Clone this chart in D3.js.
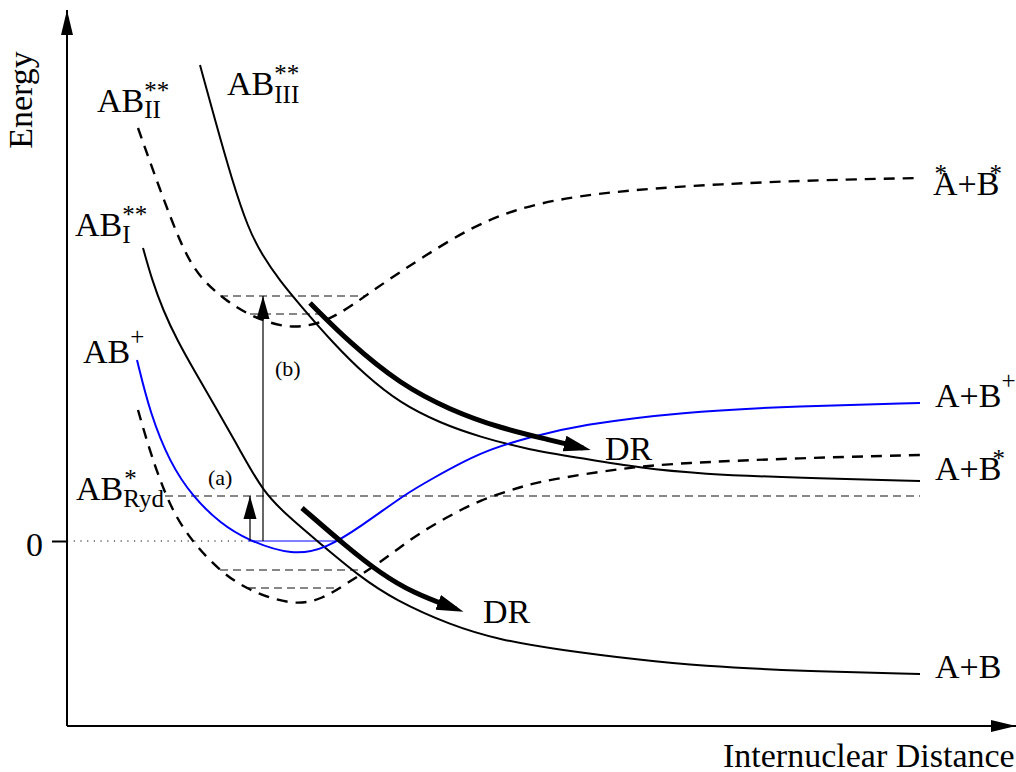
<!DOCTYPE html>
<html>
<head>
<meta charset="utf-8">
<script src="https://cdn.jsdelivr.net/npm/d3@7"></script>
<style>
  body { margin: 0; background: #fff; }
  text { font-family: "Liberation Serif", "Times New Roman", serif; fill: #000; }
</style>
</head>
<body>
<svg width="1016" height="772"></svg>
<script>
// potential curves, [internuclear distance, energy] (arbitrary units, 0 = ion ground level)
var abPlus = [[7.0, 18.1], [8.3, 12.8], [10.3, 7.8], [12.6, 4.4], [15.3, 1.8], [18.0, 0.1], [22.6, -1.5],
  [26.0, -0.7], [29.3, 1.4], [34.0, 4.8], [36.3, 6.1], [41.3, 8.9], [46.3, 10.4], [51.3, 11.6],
  [61.3, 12.9], [73.3, 13.5], [85.3, 13.8]];
var abRyd = [[7.1, 13.1], [8.3, 8.9], [10.3, 3.3], [12.6, -0.2], [15.3, -3.0], [18.0, -4.9], [22.6, -6.5],
  [25.6, -5.8], [28.0, -4.2], [31.3, -2.2], [34.6, 0.4], [38.0, 2.4], [41.3, 4.1], [45.3, 5.4],
  [48.0, 6.1], [55.6, 7.3], [61.3, 7.8], [73.3, 8.3], [85.3, 8.6]];
var abI = [[7.6, 29.3], [8.5, 26.1], [9.6, 23.1], [11.0, 20.1], [12.8, 16.9], [14.8, 13.5], [17.3, 9.1],
  [19.6, 4.9], [22.3, 2.3], [24.9, 0.1], [29.3, -3.6], [32.8, -5.9], [38.3, -8.4], [43.3, -9.9],
  [49.3, -10.9], [57.3, -11.9], [63.3, -12.5], [73.3, -13.0], [85.3, -13.3]];
var abII = [[7.1, 41.3], [9.3, 35.1], [11.6, 29.1], [13.3, 26.3], [15.8, 24.1], [18.3, 22.5], [22.3, 21.1],
  [26.0, 21.9], [29.3, 24.1], [31.8, 25.9], [35.6, 28.4], [40.3, 31.3], [44.6, 33.1], [49.6, 34.3],
  [56.3, 35.1], [65.3, 35.7], [75.3, 36.1], [85.3, 36.3]];
var abIII = [[13.3, 47.6], [14.8, 42.1], [16.5, 36.1], [18.1, 31.3], [19.5, 28.6], [21.3, 26.0], [23.3, 23.6],
  [26.6, 19.8], [29.8, 16.6], [33.3, 13.8], [37.3, 11.8], [41.3, 10.4], [46.3, 9.1], [51.3, 8.3],
  [57.3, 7.3], [63.3, 6.7], [73.3, 6.3], [85.3, 6.0]];

// dissociation paths (thick arrows)
var drUpper = [[24.3, 23.8], [28.3, 19.8], [33.3, 15.7], [38.3, 13.1], [43.3, 11.3], [48.3, 10.1], [51.6, 9.3]];
var drLower = [[23.5, 3.3], [28.0, -0.6], [31.3, -3.2], [34.6, -5.2], [38.9, -6.8]];

// vibrational / reference levels: [energy, from, to]
var dashedLevels = [[4.5, 9.8, 85.3], [-2.9, 15.3, 29.6], [-4.7, 18.1, 27.1], [24.5, 15.3, 29.8], [22.7, 18.3, 25.6]];
var ionLevel = [0, 18.1, 27.1];
var zeroLine = [0, 0, 18.1];

// excitations: [distance, from energy, to energy, label]
var excitations = [[18.3, 0, 4.5, '(a)'], [19.6, 0, 24.5, '(b)']];
var excitationLabelPos = [[14.1, 5.6], [20.8, 16.5]];

var x = d3.scaleLinear().domain([0, 95]).range([67, 1017]);
var y = d3.scaleLinear().domain([-18.5, 53]).range([726, 11]);

var svg = d3.select('svg');

var defs = svg.append('defs');
function marker(id, d, refX) {
  defs.append('marker')
    .attr('id', id)
    .attr('viewBox', '0 -10 30 20')
    .attr('markerWidth', 30).attr('markerHeight', 20)
    .attr('markerUnits', 'userSpaceOnUse')
    .attr('refX', refX).attr('refY', 0)
    .attr('orient', 'auto')
    .append('path').attr('d', d).attr('fill', '#000');
}
marker('head-axis', 'M0,-6L25,0L0,6Z', 25);
marker('head-thin', 'M0,-6.5L23,0L0,6.5Z', 23);
marker('head-dr', 'M0,-8L27,0L0,8Z', 19);

var line = d3.line()
  .x(d => x(d[0]))
  .y(d => y(d[1]))
  .curve(d3.curveBasis);

// axes
svg.append('line')
  .attr('x1', x(0)).attr('y1', y(-18.5)).attr('x2', x(0)).attr('y2', 10)
  .attr('stroke', '#000').attr('stroke-width', 2)
  .attr('marker-end', 'url(#head-axis)');
svg.append('line')
  .attr('x1', x(0)).attr('y1', y(-18.5)).attr('x2', 1016).attr('y2', y(-18.5))
  .attr('stroke', '#000').attr('stroke-width', 2)
  .attr('marker-end', 'url(#head-axis)');

var yAxis = svg.append('g')
  .attr('transform', 'translate(' + x(0) + ',0)')
  .call(d3.axisLeft(y).tickValues([0]).tickSize(15).tickPadding(9).tickFormat(d3.format('d')));
yAxis.select('.domain').remove();
yAxis.selectAll('.tick line').attr('stroke-width', 2);
yAxis.selectAll('.tick text')
  .attr('dy', '0.43em')
  .style('font-size', '34px')
  .style('font-family', '"Liberation Serif", serif');

svg.append('text')
  .attr('transform', 'translate(32,' + y(44.1) + ') rotate(-90)')
  .attr('text-anchor', 'middle')
  .style('font-size', '34px')
  .text('Energy');
svg.append('text')
  .attr('x', x(65.6)).attr('y', y(-18.5) + 41)
  .style('font-size', '34px')
  .text('Internuclear Distance');

// zero reference
svg.append('line')
  .attr('x1', x(zeroLine[1])).attr('x2', x(zeroLine[2]))
  .attr('y1', y(zeroLine[0])).attr('y2', y(zeroLine[0]))
  .attr('stroke', '#000').attr('stroke-width', 1)
  .attr('stroke-dasharray', '1.2 5.5');

// dashed levels
svg.selectAll('.level')
  .data(dashedLevels)
  .enter()
  .append('line')
  .classed('level', true)
  .attr('x1', d => x(d[1])).attr('x2', d => x(d[2]))
  .attr('y1', d => y(d[0])).attr('y2', d => y(d[0]))
  .attr('stroke', '#111').attr('stroke-width', 1.2)
  .attr('stroke-dasharray', '8 5');

svg.append('line')
  .attr('x1', x(ionLevel[1])).attr('x2', x(ionLevel[2]))
  .attr('y1', y(ionLevel[0])).attr('y2', y(ionLevel[0]))
  .attr('stroke', '#0000ff').attr('stroke-width', 1.2);

// potential curves
var curves = [
  {data: abII, dash: '11 8', color: '#000', w: 2.4},
  {data: abRyd, dash: '11 8', color: '#000', w: 2.4},
  {data: abIII, dash: null, color: '#000', w: 2},
  {data: abI, dash: null, color: '#000', w: 2},
  {data: abPlus, dash: null, color: '#0000ff', w: 2}
];
svg.selectAll('.curve')
  .data(curves)
  .enter()
  .append('path')
  .classed('curve', true)
  .attr('d', d => line(d.data))
  .attr('fill', 'none')
  .attr('stroke', d => d.color)
  .attr('stroke-width', d => d.w)
  .attr('stroke-dasharray', d => d.dash);

// excitation arrows
svg.selectAll('.exc')
  .data(excitations)
  .enter()
  .append('line')
  .classed('exc', true)
  .attr('x1', d => x(d[0])).attr('x2', d => x(d[0]))
  .attr('y1', d => y(d[1])).attr('y2', d => y(d[2]))
  .attr('stroke', '#000').attr('stroke-width', 1.2)
  .attr('marker-end', 'url(#head-thin)');
svg.selectAll('.exc-label')
  .data(excitations)
  .enter()
  .append('text')
  .attr('x', (d, i) => x(excitationLabelPos[i][0]))
  .attr('y', (d, i) => y(excitationLabelPos[i][1]))
  .style('font-size', '22px')
  .text(d => d[3]);

// DR arrows
svg.selectAll('.dr')
  .data([drUpper, drLower])
  .enter()
  .append('path')
  .classed('dr', true)
  .attr('d', line)
  .attr('fill', 'none')
  .attr('stroke', '#000')
  .attr('stroke-width', 5)
  .attr('marker-end', 'url(#head-dr)');

// labels built from pieces: text, size, raise, dx, advance
function label(px, pe, parts) {
  var cx = x(px), by = y(pe);
  parts.forEach(p => {
    var t = svg.append('text')
      .attr('x', cx + (p.dx || 0))
      .attr('y', by - (p.up || 0))
      .style('font-size', (p.size || 34) + 'px')
      .text(p.t);
    if (p.adv !== false) cx += (p.dx || 0) + t.node().getComputedTextLength();
  });
}
var S = 25;
label(3.0, 42.9, [{t: 'AB'}, {t: '**', size: S, up: 13, adv: false}, {t: 'II', size: S, up: -6}]);
label(16.0, 44.6, [{t: 'AB'}, {t: '**', size: S, up: 13, adv: false}, {t: 'III', size: S, up: -8}]);
label(0.8, 30.5, [{t: 'AB'}, {t: '**', size: S, up: 13, adv: false}, {t: 'I', size: S, up: -7}]);
label(1.6, 17.8, [{t: 'AB'}, {t: '+', size: S, up: 18}]);
label(0.9, 4.1, [{t: 'AB'}, {t: '*', size: S, up: 13, dx: 1, adv: false}, {t: 'Ryd', size: S, up: -7}]);
label(86.6, 34.6, [{t: 'A'}, {t: '*', size: S, up: 13, dx: -23, adv: false}, {t: '+B'}, {t: '*', size: S, up: 13, dx: -10}]);
label(86.8, 13.4, [{t: 'A+B'}, {t: '+', size: S, up: 18}]);
label(86.8, 6.1, [{t: 'A+B'}, {t: '*', size: S, up: 13, dx: -9}]);
label(86.8, -13.7, [{t: 'A+B'}]);
label(53.8, 8.1, [{t: 'DR'}]);
label(41.6, -8.2, [{t: 'DR'}]);
</script>
</body>
</html>
